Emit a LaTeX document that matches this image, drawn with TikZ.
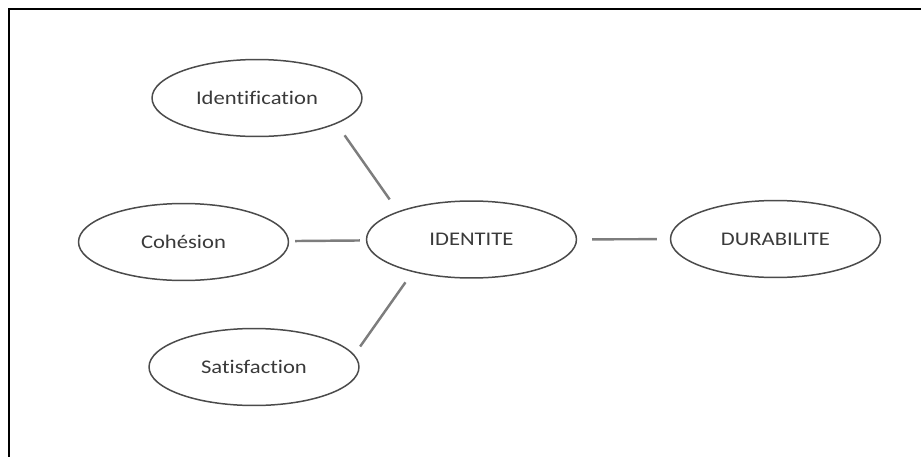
\documentclass[tikz,border=0pt]{standalone}
\usepackage{fontspec}
\setmainfont[FakeStretch=1.17, Ligatures=NoCommon]{Carlito}
\usetikzlibrary{shapes.geometric}
\definecolor{inkgray}{RGB}{58,58,58}
\definecolor{rimgray}{RGB}{75,75,75}
\definecolor{linkgray}{RGB}{125,125,125}
\tikzset{
        concept/.style = {ellipse, draw=rimgray, line width=0.85pt, minimum width=4.2cm, minimum height=1.54cm, inner sep=0pt, text=inkgray, font=\fontsize{11}{13}\selectfont},
        link/.style = {draw=linkgray, line width=1.4pt},
        frame/.style = {line width=1.2pt, black}
}

\begin{document}
\begin{tikzpicture}[x=0.02cm, y=-0.02cm]

        % Page
        \useasboundingbox (0,0) rectangle (921,457);
        \draw [frame] (921,9) -- (9,9) -- (9,457);

        % Concepts
        \node [concept] (identification) at (257,98) {Identification};
        \node [concept] (cohesion) at (183.5,242) {Cohésion};
        \node [concept] (identite) at (471.5,239.5) {IDENTITE};
        \node [concept] (durabilite) at (775.5,239) {DURABILITE};
        \node [concept] (satisfaction) at (254,367) {Satisfaction};

        % Links
        \draw [link, shorten <=0.28cm, shorten >=0.29cm] (identification.-18.5) -- (identite.159.4);
        \draw [link, shorten <=0.12cm, shorten >=0.12cm] (cohesion) -- (identite);
        \draw [link, shorten <=0.25cm, shorten >=0.2cm] (identite.-151) -- (satisfaction.7.5);
        \draw [link, shorten <=0.3cm, shorten >=0.26cm] (identite) -- (durabilite);

\end{tikzpicture}
\end{document}
